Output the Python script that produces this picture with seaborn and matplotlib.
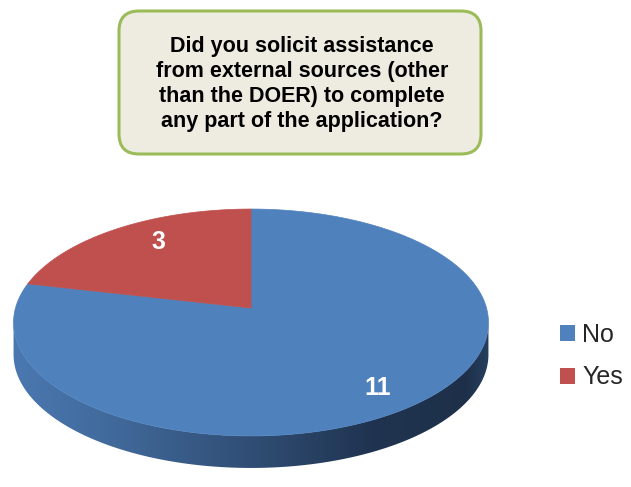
import numpy as np
import matplotlib
matplotlib.use("Agg")
import matplotlib.pyplot as plt
import seaborn as sns
from matplotlib.patches import Polygon, FancyBboxPatch, Patch
from matplotlib.colors import LinearSegmentedColormap

categories = ["No", "Yes"]
values = [11, 3]
colors = ["#4F81BD", "#C0504D"]
title = "Did you solicit assistance\nfrom external sources (other\nthan the DOER) to complete\nany part of the application?"

sns.set_theme(style="white")
plt.rcParams['font.family'] = ['Liberation Sans', 'DejaVu Sans']

fig = plt.figure(figsize=(6.31, 4.87), dpi=100)
ax = fig.add_axes([0, 0, 1, 1])
ax.set_xlim(0, 631)
ax.set_ylim(487, 0)
ax.axis("off")

# perspective pie geometry (pixel units)
px, py = 251, 308        # projected centre of the top face
A, B, k = 235.5, 111.6, 0.1278
depth = 32

def proj(theta_deg, r=1.0, yoff=0.0):
    t = np.radians(theta_deg)
    u, v = r * np.cos(t), r * np.sin(t)
    w = 1 + k * v
    return px + A * u / w, py - B * v / w + yoff

# side wall (front half) with horizontal gradient
edge = np.degrees(np.arcsin(k))
th = np.linspace(180 + edge, 360 - edge, 300)
top = np.array([proj(t) for t in th])
bot = np.array([proj(t, yoff=depth) for t in th[::-1]])
side = Polygon(np.vstack([top, bot]), closed=True, facecolor="none", edgecolor="none")
ax.add_patch(side)
cmap = LinearSegmentedColormap.from_list(
    "side", [(0, "#4A78B0"), (0.2, "#416A9C"), (0.5, "#304E74"),
             (0.75, "#203451"), (0.95, "#1E3049"), (1.0, "#26405F")])
grad = np.linspace(0, 1, 256)[None, :]
xmin, xmax = top[:, 0].min(), top[:, 0].max()
im = ax.imshow(grad, cmap=cmap, aspect="auto",
               extent=[xmin - 1, xmax + 1, 480, 300], zorder=1)
im.set_clip_path(side)

# top face wedges computed from values, starting at 12 o'clock, counter-clockwise for Yes
total = sum(values)
yes_ang = 360.0 * values[1] / total
wedges = {
    "Yes": (90.0, 90.0 + yes_ang),
    "No": (90.0 + yes_ang, 450.0),
}
for cat, col in zip(categories, colors):
    s, e = wedges[cat]
    arc = np.array([proj(t) for t in np.linspace(s, e, 300)])
    poly = np.vstack([[px, py], arc])
    ax.add_patch(Polygon(poly, closed=True, facecolor=col, edgecolor=col,
                         linewidth=0.5, zorder=2))

# value labels
label_pos = {"Yes": (0.77, -5), "No": (0.82, -1.5)}
for cat, val in zip(categories, values):
    s, e = wedges[cat]
    r, dth = label_pos[cat]
    lx, ly = proj((s + e) / 2 + dth, r=r)
    ax.text(lx, ly, str(val), color="white", fontsize=18, fontweight="bold",
            ha="center", va="center", zorder=3)

# title box
box = FancyBboxPatch((119, 11), 362, 143, boxstyle="round,pad=0,rounding_size=20",
                     facecolor="#EEECE1", edgecolor="#9BBB59", linewidth=2.2, zorder=3)
ax.add_patch(box)
ax.text(302, 84, title, ha="center", va="center", fontsize=15.5, fontweight="bold",
        color="black", linespacing=1.25, zorder=4)

# legend
handles = [Patch(facecolor=c, edgecolor="none") for c in colors]
fig.legend(handles, categories, loc="center left", bbox_to_anchor=(547 / 631, 1 - 356 / 487),
           frameon=False, fontsize=18, handlelength=0.6, handleheight=0.6,
           handletextpad=0.3, labelspacing=0.75, borderpad=0)

fig.savefig("out.png", dpi=100)
